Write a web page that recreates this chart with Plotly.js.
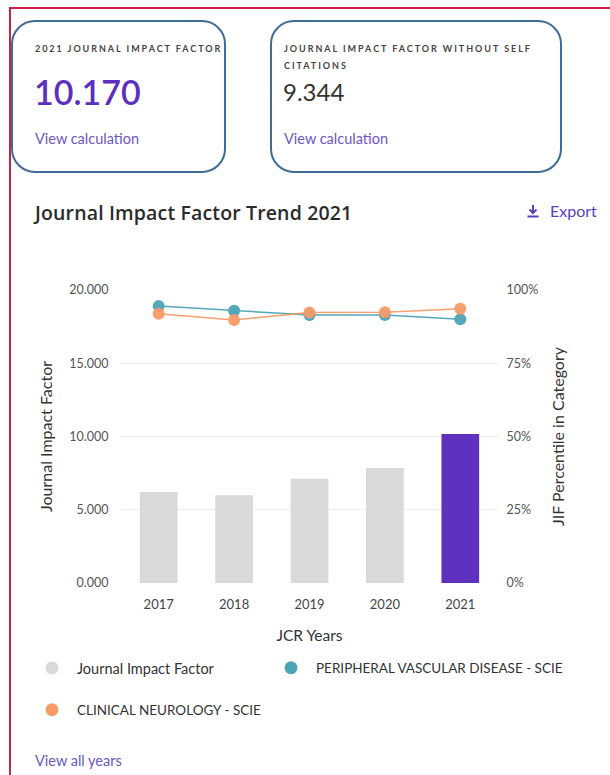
<!DOCTYPE html>
<html>
<head>
<meta charset="utf-8">
<script src="https://cdn.plot.ly/plotly-3.0.1.min.js"></script>
<style>
  html, body { margin:0; padding:0; background:#fff; width:610px; height:775px; overflow:hidden; font-family: Lato, "Noto Sans", sans-serif; }
  #chart { position:absolute; left:0; top:0; width:610px; height:775px; }
  .frame { position:absolute; left:9px; top:7px; width:620px; height:800px; border-left:2px solid #c8214a; border-top:2px solid #c8214a; pointer-events:none; }
  .card { position:absolute; top:20px; height:149px; border:2.5px solid #3f6b98; border-radius:24px; background:transparent; }
  .lbl { position:absolute; font-size:9px; font-weight:700; letter-spacing:1.95px; color:#444; line-height:17px; }
  .big { position:absolute; color:#5b2fbf; font-size:34px; font-weight:600; }
  .mid { position:absolute; color:#333; font-size:24px; }
  .link { position:absolute; color:#6c57c4; font-size:14.5px; }
  .title { position:absolute; left:35px; top:199px; font-size:19.5px; font-weight:600; color:#2b2b2b; font-family:"Open Sans", Lato, sans-serif; letter-spacing:0.15px; }
  .export { position:absolute; left:526px; top:201px; font-size:16px; color:#5b3fc0; }
  .export svg { position:absolute; left:1px; top:3px; }
</style>
</head>
<body>
<div id="chart"></div>
<div class="frame"></div>
<div class="card" style="left:11px; width:211px;"></div>
<div class="card" style="left:270px; width:288px;"></div>
<div class="lbl" style="left:35px; top:40px;">2021 JOURNAL IMPACT FACTOR</div>
<div class="big" style="left:34px; top:71px;">10.170</div>
<div class="link" style="left:35px; top:130px;">View calculation</div>
<div class="lbl" style="left:284px; top:40px; width:274px;">JOURNAL IMPACT FACTOR WITHOUT SELF<br>CITATIONS</div>
<div class="mid" style="left:283px; top:77px;">9.344</div>
<div class="link" style="left:284px; top:130px;">View calculation</div>
<div class="title">Journal Impact Factor Trend 2021</div>
<div class="export">
  <svg width="12" height="14" viewBox="0 0 12 14"><path d="M6 1 V9 M2.5 5.5 L6 9 L9.5 5.5" stroke="#5b3fc0" stroke-width="2" fill="none"/><rect x="0.5" y="11.5" width="11" height="2" fill="#5b3fc0"/></svg>
  <span style="margin-left:24px;">Export</span>
</div>
<div class="link" style="left:35px; top:752px;">View all years</div>
<script>
// ---- data ----
const years = ["2017", "2018", "2019", "2020", "2021"];
const jif = [6.21, 5.99, 7.12, 7.85, 10.170];
const pvdPercentile = [94.5, 92.9, 91.5, 91.5, 90.0];
const neuroPercentile = [91.9, 89.8, 92.3, 92.4, 93.6];
const yTicks = [0, 5, 10, 15, 20];
const yTickText = ["0.000", "5.000", "10.000", "15.000", "20.000"];
const pTicks = [0, 25, 50, 75, 100];
const pTickText = ["0%", "25%", "50%", "75%", "100%"];
const currentYear = "2021";

const GRAY = "#d9d9d9", PURPLE = "#5e32bf", TEAL = "#4ba4b6", ORANGE = "#f79b69";
const FONT = "Lato, 'Noto Sans', sans-serif";

const traces = [
  { type: "bar", x: years, y: jif, yaxis: "y",
    marker: { color: years.map(y => y === currentYear ? PURPLE : GRAY) },
    showlegend: false },
  { type: "scatter", mode: "lines+markers", x: years, y: pvdPercentile, yaxis: "y2",
    line: { color: TEAL, width: 1.5 }, marker: { color: TEAL, size: 12 }, opacity: 0.95,
    showlegend: false, name: "PERIPHERAL VASCULAR DISEASE - SCIE" },
  { type: "scatter", mode: "lines+markers", x: years, y: neuroPercentile, yaxis: "y2",
    line: { color: ORANGE, width: 1.5 }, marker: { color: ORANGE, size: 12 }, opacity: 0.95,
    showlegend: false, name: "CLINICAL NEUROLOGY - SCIE" },
  // legend entries
  { type: "scatter", mode: "markers", x: [null], y: [null], name: "Journal Impact Factor",
    marker: { color: GRAY, size: 13 }, legend: "legend" },
  { type: "scatter", mode: "markers", x: [null], y: [null], name: "PERIPHERAL VASCULAR DISEASE - SCIE",
    marker: { color: TEAL, size: 13 }, legend: "legend3" },
  { type: "scatter", mode: "markers", x: [null], y: [null], name: "CLINICAL NEUROLOGY - SCIE",
    marker: { color: ORANGE, size: 13 }, legend: "legend2" }
];

function legendAt(px, py, size) {
  return {
    orientation: "h", xref: "container", yref: "container", xanchor: "left", yanchor: "middle",
    x: px / 610, y: 1 - py / 775,
    font: { family: FONT, size: size, color: "#333" }, bgcolor: "rgba(0,0,0,0)", itemwidth: 40
  };
}

const layout = {
  width: 610, height: 775,
  margin: { l: 121, r: 112, t: 290, b: 192, pad: 0 },
  paper_bgcolor: "rgba(0,0,0,0)", plot_bgcolor: "rgba(0,0,0,0)",
  font: { family: FONT, color: "#444" },
  bargap: 0.5,
  xaxis: {
    type: "category", showgrid: false, zeroline: false, showline: false,
    tickfont: { size: 13, color: "#444" }, ticks: "outside", ticklen: 9, tickcolor: "rgba(0,0,0,0)",
    title: { text: "JCR Years", font: { size: 15.5, color: "#333" }, standoff: 19 }
  },
  yaxis: {
    range: [0, 20], tickvals: yTicks, ticktext: yTickText, showgrid: true, gridcolor: "#ececec",
    zeroline: false, showline: false, ticks: "outside", ticklen: 9, tickcolor: "rgba(0,0,0,0)",
    tickfont: { size: 12.5, color: "#555" },
    title: { text: "Journal Impact Factor", font: { size: 16, color: "#333" }, standoff: 12 }
  },
  yaxis2: {
    overlaying: "y", side: "right", range: [0, 100], tickvals: pTicks, ticktext: pTickText,
    showgrid: false, zeroline: false, showline: false, ticks: "outside", ticklen: 5, tickcolor: "rgba(0,0,0,0)",
    tickfont: { size: 12.5, color: "#555" },
    title: { text: "JIF Percentile in Category", font: { size: 16, color: "#333" }, standoff: 15 }
  },
  legend: legendAt(27, 668, 14.5),
  legend3: legendAt(266, 668, 13.5),
  legend2: legendAt(27, 710, 13.5),
  hovermode: false
};

Plotly.newPlot("chart", traces, layout, { displayModeBar: false, staticPlot: true });
</script>
</body>
</html>
